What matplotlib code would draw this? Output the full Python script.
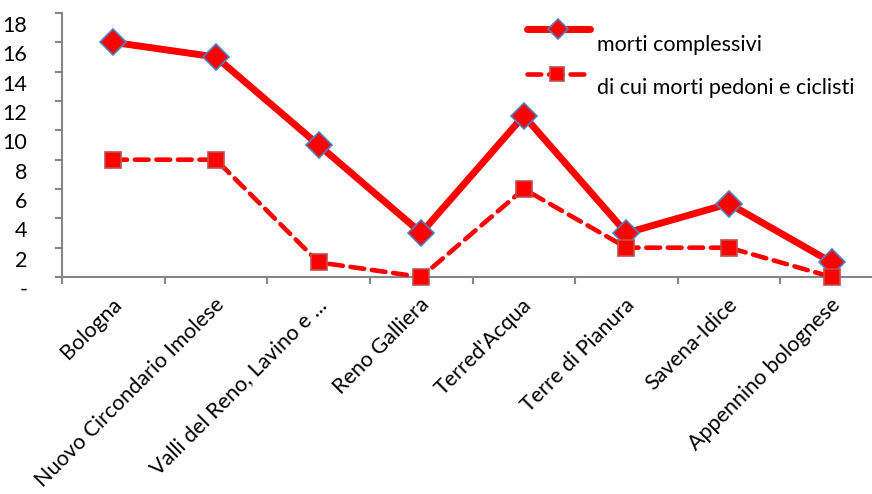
import numpy as np
import matplotlib.pyplot as plt
from matplotlib.lines import Line2D
import matplotlib.transforms as mtransforms

plt.rcParams['font.family'] = ['Lato', 'DejaVu Sans']

# data
zones = ['Bologna', 'Nuovo Circondario Imolese', 'Valli del Reno, Lavino e ...',
         'Reno Galliera', "Terred'Acqua", 'Terre di Pianura', 'Savena-Idice',
         'Appennino bolognese']
morti = [16, 15, 9, 3, 11, 3, 5, 1]
pedoni_ciclisti = [8, 8, 1, 0, 6, 2, 2, 0]
y_ticks = [0, 2, 4, 6, 8, 10, 12, 14, 16, 18]
y_labels = ['-'] + [str(v) for v in y_ticks[1:]]

red = '#FF0000'
grey = '#868686'
dash = (0, (3.0, 1.7))

fig = plt.figure(figsize=(8.72, 4.94), dpi=100)
ax = fig.add_axes([62/872, 1 - 277/494, (883 - 62)/872, (277 - 13)/494])
x = np.arange(len(zones))

ax.plot(x, morti, color=red, lw=5, marker='D', ms=13, mfc=red,
        mec='#4F81BD', mew=1.2, solid_capstyle='round', zorder=3, clip_on=False)
ax.plot(x, pedoni_ciclisti, color=red, lw=3.3, ls=dash, marker='s',
        ms=11, mfc=red, mec='#C0504D', mew=1.2, dash_capstyle='round',
        zorder=3, clip_on=False)

ax.set_xlim(-0.5, len(zones) - 0.5)
ax.set_ylim(0, 18)

for s in ['top', 'right']:
    ax.spines[s].set_visible(False)
for s in ['left', 'bottom']:
    ax.spines[s].set_color(grey)
    ax.spines[s].set_linewidth(1.5)

ax.set_yticks(y_ticks)
ax.set_yticklabels(y_labels, fontsize=15.5)
ax.tick_params(axis='y', length=5, width=1.5, color=grey, pad=20)
# Excel-style offset of the value labels below their ticks
offset = mtransforms.ScaledTranslation(0, -11/100, fig.dpi_scale_trans)
for lab in ax.get_yticklabels():
    lab.set_transform(lab.get_transform() + offset)

ax.set_xticks(np.arange(len(zones) + 1) - 0.5)
ax.set_xticklabels([])
ax.tick_params(axis='x', length=5, width=1.5, color=grey)
for i, z in enumerate(zones):
    ax.text(i - 0.02, -1.2, z, rotation=45, rotation_mode='anchor',
            ha='right', va='top', fontsize=15.5)

# legend drawn by hand, Excel-like (text sits below the sample line)
fig.add_artist(Line2D([527/872, 590/872], [1 - 29/494, 1 - 29/494], color=red,
                      lw=5, solid_capstyle='round'))
fig.add_artist(Line2D([558/872], [1 - 29/494], marker='D', ms=10, mfc=red,
                      mec='#4F81BD', mew=1.2))
fig.text(597/872, 1 - 45/494, 'morti complessivi', fontsize=15.5, va='center')
fig.add_artist(Line2D([527/872, 585/872], [1 - 74/494, 1 - 74/494], color=red,
                      lw=3.3, ls=dash, dash_capstyle='round'))
fig.add_artist(Line2D([557/872], [1 - 74/494], marker='s', ms=10, mfc=red,
                      mec='#C0504D', mew=1.2))
fig.text(597/872, 1 - 88/494, 'di cui morti pedoni e ciclisti', fontsize=15.5,
         va='center')

fig.savefig('out.png', dpi=100)
